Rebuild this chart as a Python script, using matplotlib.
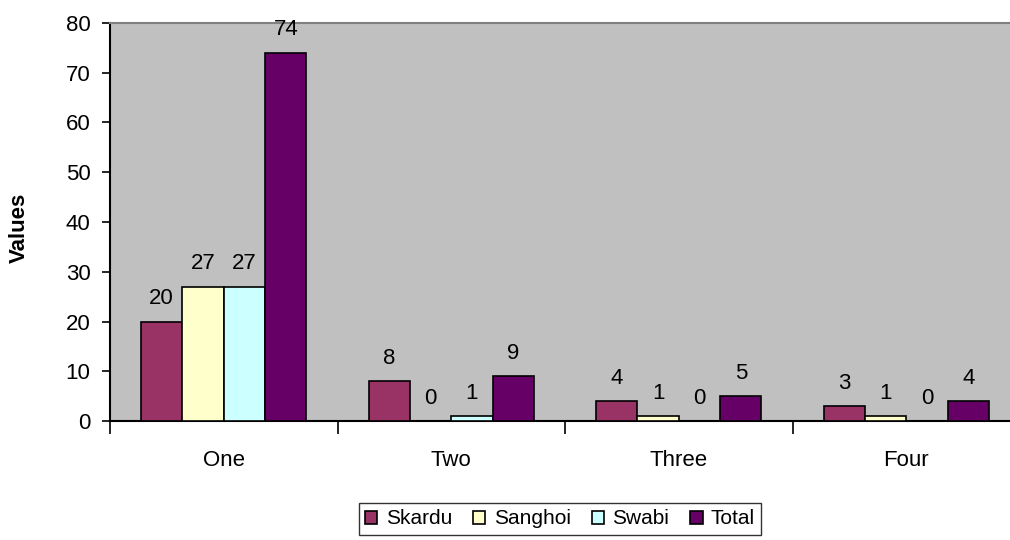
import matplotlib
matplotlib.use("Agg")
import matplotlib.pyplot as plt
import numpy as np
from matplotlib.patches import Patch

plt.rcParams['font.family'] = ['Liberation Sans', 'DejaVu Sans']

categories = ["One", "Two", "Three", "Four"]
series_names = ["Skardu", "Sanghoi", "Swabi", "Total"]
skardu = [20, 8, 4, 3]
sanghoi = [27, 0, 1, 1]
swabi = [27, 1, 0, 0]
total = [74, 9, 5, 4]
series_values = [skardu, sanghoi, swabi, total]
colors = ["#993366", "#FFFFCC", "#CCFFFF", "#660066"]

fig = plt.figure(figsize=(10.1, 5.4), dpi=100)
W, H = 1010, 540
left, right, top, bottom = 110, 1020, 23, 421
ax = fig.add_axes([left / W, 1 - bottom / H, (right - left) / W, (bottom - top) / H])
ax.set_facecolor("#C0C0C0")

x = np.arange(len(categories))
n = len(series_names)
w = 1 / (n + 1.5)
for i, (name, vals, c) in enumerate(zip(series_names, series_values, colors)):
    pos = x + (i - (n - 1) / 2) * w
    ax.bar(pos, vals, width=w, color=c, edgecolor="black", linewidth=1.2, label=name, zorder=3)
    for px, v in zip(pos, vals):
        ax.annotate(str(v), (px, v), xytext=(0, 9), textcoords="offset points",
                    ha="center", va="bottom", fontsize=16)

ax.set_xlim(-0.5, len(categories) - 0.5)
ax.set_ylim(0, 80)
ax.set_yticks(range(0, 81, 10))
ax.tick_params(axis="y", direction="out", length=6, width=1.2, labelsize=16, pad=8)

ax.set_xticks(np.arange(-0.5, len(categories), 1.0))
ax.set_xticklabels([])
ax.tick_params(axis="x", which="major", direction="out", length=9, width=1.2)
ax.set_xticks(x, minor=True)
ax.set_xticklabels(categories, minor=True, fontsize=16)
ax.tick_params(axis="x", which="minor", length=0, pad=21)

for s in ["left", "bottom"]:
    ax.spines[s].set_color("black")
    ax.spines[s].set_linewidth(1.5)
for s in ["top", "right"]:
    ax.spines[s].set_color("#808080")
    ax.spines[s].set_linewidth(1.5)

fig.text(19 / W, 1 - 228 / H, "Values", rotation=90, ha="center", va="center",
         fontsize=16, fontweight="bold")

handles = [Patch(facecolor=c, edgecolor="black", linewidth=1.2) for c in colors]
leg = fig.legend(handles, series_names, loc="center", bbox_to_anchor=(560 / W, 1 - 519 / H),
                 ncol=4, fontsize=15, frameon=True, fancybox=False, edgecolor="black",
                 handlelength=0.6, handleheight=0.6, handletextpad=0.4, columnspacing=1.0,
                 borderpad=0.3, borderaxespad=0)
leg.get_frame().set_linewidth(1.0)

fig.savefig("out.png", dpi=100, facecolor="white")
